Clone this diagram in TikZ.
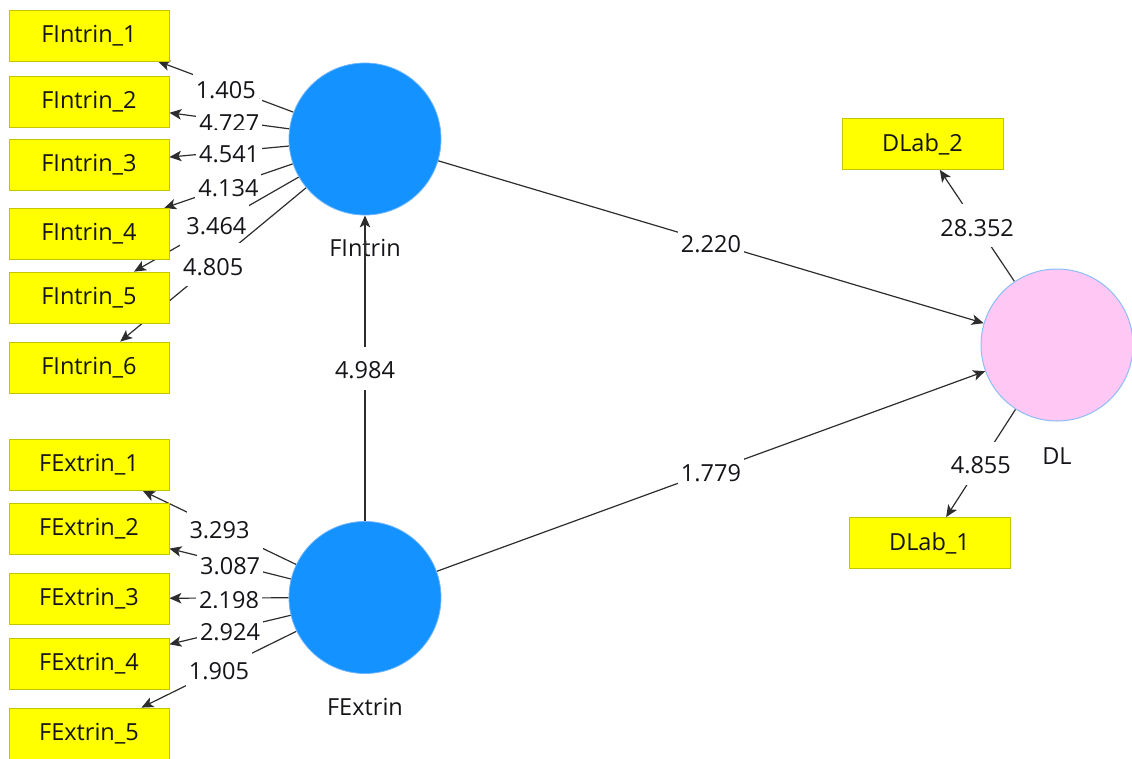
\documentclass[tikz,border=0pt]{standalone}
\usepackage{fontspec}
\setmainfont{Open Sans}
\usetikzlibrary{arrows.meta}

\definecolor{latblue}{RGB}{20,146,255}
\definecolor{latedge}{RGB}{110,180,255}
\definecolor{dlpink}{RGB}{255,200,244}
\definecolor{dledge}{RGB}{140,190,245}
\definecolor{boxyellow}{RGB}{255,255,0}
\definecolor{boxedge}{RGB}{196,196,0}
\definecolor{linegray}{RGB}{45,45,45}
\definecolor{txt}{RGB}{20,20,25}

% captions lie under the connectors, connectors under the boxes and circles
\pgfdeclarelayer{captions}
\pgfdeclarelayer{edges}
\pgfsetlayers{captions,edges,main}

\begin{document}
\begin{tikzpicture}[
  x=1pt, y=-1pt,
  basefont/.style={font=\fontsize{23.5}{28}\selectfont, text=txt},
  indicator/.style={basefont, draw=boxedge, fill=boxyellow, line width=0.8pt,
    minimum width=160pt, minimum height=51pt, inner sep=0pt},
  latent/.style={circle, fill=latblue, draw=latedge, line width=0.8pt,
    minimum size=152pt, inner sep=0pt},
  target/.style={latent, fill=dlpink, draw=dledge, line width=1pt},
  caption/.style={basefont, inner sep=0pt},
  link/.style={draw=linegray, line width=1.2pt,
    -{Stealth[length=12pt, width=10.5pt, inset=3pt]}},
  weight/.style={basefont, midway, fill=white, inner xsep=3pt, inner ysep=0pt,
    text height=32pt, text depth=11pt}
]
\useasboundingbox (0,0) rectangle (1132,758);

% latent variables
\node[latent] (FI) at (365,139) {};
\node[latent] (FE) at (365,597.5) {};
\node[target] (DL) at (1057,345) {};

\begin{pgfonlayer}{captions}
\node[caption] (FIcap) at (365,248) {FIntrin};
\node[caption] (FEcap) at (365,707) {FExtrin};
\node[caption] (DLcap) at (1057,456) {DL};
\end{pgfonlayer}

% indicators of FIntrin
\node[indicator] (FI1) at (89,35.5)  {FIntrin\_1};
\node[indicator] (FI2) at (89,102)   {FIntrin\_2};
\node[indicator] (FI3) at (89,164.5) {FIntrin\_3};
\node[indicator] (FI4) at (89,234)   {FIntrin\_4};
\node[indicator] (FI5) at (89,297.5) {FIntrin\_5};
\node[indicator] (FI6) at (89,367.5) {FIntrin\_6};

% indicators of FExtrin
\node[indicator] (FE1) at (89,465)   {FExtrin\_1};
\node[indicator] (FE2) at (89,528.5) {FExtrin\_2};
\node[indicator] (FE3) at (89,598.5) {FExtrin\_3};
\node[indicator] (FE4) at (89,663.5) {FExtrin\_4};
\node[indicator] (FE5) at (89,733.5) {FExtrin\_5};

% indicators of DL
\node[indicator, minimum width=161pt] (DL2) at (922.5,144) {DLab\_2};
\node[indicator, minimum width=161pt] (DL1) at (929.5,543) {DLab\_1};

\begin{pgfonlayer}{edges}
% outer loadings
\draw[link] (FI) -- (FI1) node[weight, yshift=-1pt] {1.405};
\draw[link] (FI) -- (FI2) node[weight] {4.727};
\draw[link] (FI) -- (FI3) node[weight] {4.541};
\draw[link] (FI) -- (FI4) node[weight] {4.134};
\draw[link] (FI) -- (FI5) node[weight] {3.464};
\draw[link] (FI) -- (FI6) node[weight] {4.805};

\draw[link] (FE) -- (FE1) node[weight] {3.293};
\draw[link] (FE) -- (FE2) node[weight] {3.087};
\draw[link] (FE) -- (FE3) node[weight] {2.198};
\draw[link] (FE) -- (FE4) node[weight] {2.924};
\draw[link] (FE) -- (FE5) node[weight] {1.905};

\draw[link] (DL) -- (DL2) node[weight] {28.352};
\draw[link] (DL) -- (DL1) node[weight] {4.855};

% structural paths
\draw[link] (FE) -- (FI) node[weight] {4.984};
\draw[link] (FI) -- (DL) node[weight] {2.220};
\draw[link] (FE) -- (DL) node[weight] {1.779};
\end{pgfonlayer}
\end{tikzpicture}
\end{document}
